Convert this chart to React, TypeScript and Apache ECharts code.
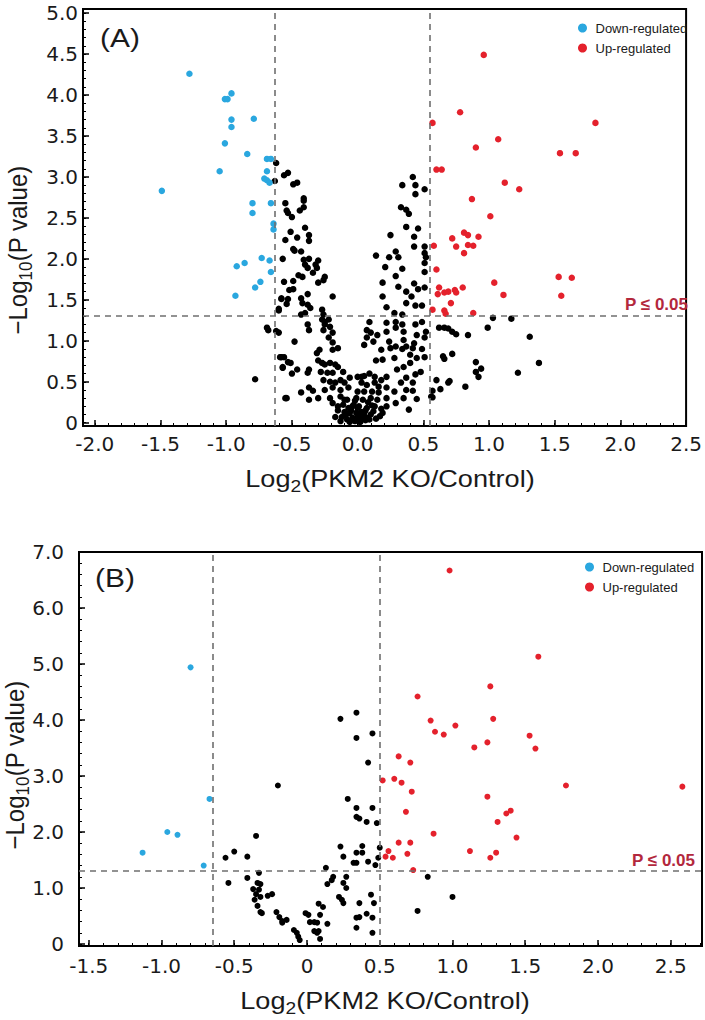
import React, { useEffect, useRef } from "react";
import * as echarts from "echarts";

// ---------- Panel A data: [log2 fold change, -log10 p] ----------
const aDown: [number, number][] = [
  [-1.28, 4.26], [-1.49, 2.83], [-1.01, 3.95], [-0.99, 3.95], [-0.96, 4.02], [-0.96, 3.7],
  [-0.96, 3.61], [-1.01, 3.41], [-0.79, 3.71], [-0.84, 3.28], [-1.05, 3.07], [-0.69, 3.22],
  [-0.66, 3.22], [-0.69, 3.07], [-0.71, 2.98], [-0.69, 2.96], [-0.67, 2.93], [-0.8, 2.68],
  [-0.8, 2.56], [-0.66, 2.68], [-0.64, 2.43], [-0.64, 2.36], [-0.92, 1.91], [-0.86, 1.95],
  [-0.73, 2.01], [-0.67, 1.98], [-0.66, 1.84], [-0.74, 1.72], [-0.78, 1.65], [-0.93, 1.55],
];

const aUp: [number, number][] = [
  [0.96, 4.49], [0.78, 3.79], [0.57, 3.66], [1.81, 3.66], [1.07, 3.46], [0.9, 3.36],
  [1.54, 3.29], [1.66, 3.29], [0.6, 3.09], [0.64, 3.09], [1.12, 2.93], [1.23, 2.85],
  [0.87, 2.73], [1.01, 2.52], [0.81, 2.32], [0.84, 2.29], [0.92, 2.27], [0.72, 2.25],
  [0.58, 2.16], [0.75, 2.15], [0.81, 2.07], [0.84, 2.17], [0.88, 2.16], [0.6, 1.87],
  [1.04, 1.71], [1.53, 1.78], [1.63, 1.77], [1.55, 1.55], [1.11, 1.56], [0.62, 1.65],
  [0.61, 1.57], [0.66, 1.59], [0.69, 1.6], [0.74, 1.62], [0.75, 1.59], [0.8, 1.65],
  [0.71, 1.46], [0.57, 1.38], [0.66, 1.37], [0.67, 1.33], [0.88, 1.34],
];

const aNS: [number, number][] = [
  // right of threshold, not significant
  [1.03, 1.28], [1.17, 1.27], [0.99, 1.16], [1.31, 1.05], [0.62, 1.16], [0.66, 1.16],
  [0.69, 1.15], [0.72, 1.11], [0.75, 1.08], [0.84, 1.07], [1.38, 0.73], [1.22, 0.61],
  [0.72, 0.84], [0.65, 0.81], [0.66, 0.78], [0.9, 0.74], [0.94, 0.66], [0.9, 0.62],
  [0.92, 0.56], [0.7, 0.51], [0.69, 0.49], [0.6, 0.52], [0.63, 0.41], [0.82, 0.44],
  [0.57, 0.39], [0.57, 0.31],
  // centre-right, above 1.3
  [0.42, 3.0], [0.34, 2.9], [0.44, 2.9], [0.44, 2.79], [0.51, 2.85], [0.33, 2.63],
  [0.37, 2.6], [0.39, 2.55], [0.37, 2.39], [0.46, 2.37], [0.25, 2.29], [0.43, 2.27],
  [0.43, 2.15], [0.51, 2.15], [0.14, 2.04], [0.24, 2.02], [0.29, 2.09], [0.31, 2.02],
  [0.21, 1.9], [0.51, 2.07], [0.52, 2.02], [0.51, 1.95], [0.34, 1.88], [0.51, 1.84],
  [0.29, 1.79], [0.19, 1.71], [0.31, 1.66], [0.37, 1.6], [0.43, 1.7], [0.46, 1.63],
  [0.51, 1.65], [0.19, 1.54], [0.22, 1.41], [0.37, 1.46], [0.41, 1.54], [0.44, 1.43],
  [0.28, 1.34], [0.34, 1.32], [0.49, 1.43],
  // centre-right, below 1.3
  [0.09, 1.23], [0.07, 1.13], [0.1, 1.1], [0.15, 1.07], [0.07, 1.04], [0.12, 0.99],
  [0.05, 0.95], [0.22, 1.22], [0.22, 1.11], [0.29, 1.23], [0.29, 1.16], [0.35, 1.11],
  [0.34, 1.2], [0.44, 1.2], [0.49, 1.23], [0.52, 1.11], [0.45, 1.07], [0.35, 1.01],
  [0.24, 0.99], [0.43, 0.97], [0.51, 1.04], [0.18, 0.89], [0.25, 0.91], [0.29, 0.93],
  [0.34, 0.9], [0.37, 0.93], [0.42, 0.91], [0.49, 0.9], [0.14, 0.76], [0.19, 0.77],
  [0.28, 0.79], [0.4, 0.83], [0.45, 0.79], [0.4, 0.73], [0.51, 0.8], [0.35, 0.68],
  [0.3, 0.65], [0.48, 0.62], [0.0, 0.56], [0.05, 0.57], [0.09, 0.6], [0.13, 0.56],
  [0.18, 0.52], [0.22, 0.56], [0.37, 0.55], [0.44, 0.59], [0.03, 0.49], [0.07, 0.46],
  [0.13, 0.49], [0.16, 0.44], [0.33, 0.49], [0.42, 0.49], [0.0, 0.38], [0.05, 0.38],
  [0.11, 0.38], [0.16, 0.37], [0.22, 0.43], [0.28, 0.38], [0.37, 0.4], [0.42, 0.39],
  [-0.01, 0.3], [0.04, 0.28], [0.1, 0.3], [0.15, 0.28], [0.22, 0.3], [0.35, 0.3],
  [0.45, 0.29], [0.56, 0.32], [0.01, 0.2], [0.07, 0.18], [0.13, 0.2], [0.22, 0.2],
  [0.29, 0.24], [0.0, 0.1], [0.05, 0.12], [0.1, 0.1], [0.19, 0.12], [0.39, 0.16],
  [0.03, 0.06], [0.07, 0.06], [0.14, 0.05],
  // left side, above 1.3
  [-0.62, 3.17], [-0.63, 2.95], [-0.56, 3.02], [-0.53, 3.05], [-0.49, 2.91], [-0.46, 2.93],
  [-0.41, 2.74], [-0.41, 2.71], [-0.55, 2.68], [-0.54, 2.59], [-0.53, 2.56], [-0.5, 2.51],
  [-0.44, 2.59], [-0.41, 2.63], [-0.4, 2.38], [-0.51, 2.33], [-0.46, 2.26], [-0.55, 2.23],
  [-0.37, 2.29], [-0.37, 2.22], [-0.49, 2.12], [-0.48, 2.1], [-0.43, 2.09], [-0.57, 2.0],
  [-0.41, 1.99], [-0.37, 2.0], [-0.3, 1.98], [-0.4, 1.93], [-0.38, 1.89], [-0.32, 1.93],
  [-0.31, 1.89], [-0.45, 1.8], [-0.42, 1.78], [-0.34, 1.83], [-0.25, 1.78], [-0.26, 1.74],
  [-0.56, 1.72], [-0.49, 1.73], [-0.3, 1.71], [-0.52, 1.62], [-0.49, 1.63], [-0.38, 1.57],
  [-0.58, 1.52], [-0.53, 1.51], [-0.43, 1.52], [-0.19, 1.54], [-0.54, 1.45], [-0.42, 1.46],
  [-0.38, 1.44], [-0.36, 1.4], [-0.6, 1.37], [-0.43, 1.32], [-0.4, 1.34], [-0.27, 1.38],
  [-0.26, 1.32], [-0.6, 1.39],
  // left side, below 1.3
  [-0.27, 1.26], [-0.25, 1.23], [-0.22, 1.26], [-0.25, 1.2], [-0.38, 1.2], [-0.37, 1.13],
  [-0.26, 1.13], [-0.21, 1.17], [-0.19, 1.1], [-0.22, 1.04], [-0.6, 1.1], [-0.68, 1.13],
  [-0.69, 1.16], [-0.48, 0.99], [-0.19, 0.98], [-0.19, 0.89], [-0.15, 0.91], [-0.29, 0.89],
  [-0.31, 0.85], [-0.58, 0.8], [-0.56, 0.8], [-0.53, 0.74], [-0.51, 0.73], [-0.57, 0.67],
  [-0.5, 0.6], [-0.46, 0.65], [-0.3, 0.76], [-0.27, 0.73], [-0.25, 0.71], [-0.21, 0.73],
  [-0.17, 0.71], [-0.37, 0.65], [-0.28, 0.62], [-0.23, 0.61], [-0.19, 0.61], [-0.15, 0.68],
  [-0.11, 0.62], [-0.38, 0.61], [-0.26, 0.52], [-0.21, 0.5], [-0.17, 0.49], [-0.13, 0.52],
  [-0.1, 0.49], [-0.06, 0.55], [0.03, 0.56], [-0.37, 0.43], [-0.34, 0.39], [-0.25, 0.4],
  [-0.19, 0.43], [-0.13, 0.4], [-0.07, 0.43], [-0.43, 0.37], [-0.37, 0.28], [-0.3, 0.3],
  [-0.21, 0.3], [-0.13, 0.32], [-0.1, 0.28], [-0.54, 0.3], [-0.19, 0.24], [-0.15, 0.2],
  [-0.11, 0.22], [-0.07, 0.18], [-0.04, 0.2], [0.0, 0.18], [-0.1, 0.13], [-0.06, 0.12],
  [-0.01, 0.12], [0.03, 0.13], [-0.17, 0.07], [-0.12, 0.07], [-0.04, 0.06], [0.0, 0.06],
  [0.04, 0.07], [-0.08, 0.04], [-0.02, 0.02], [-0.78, 0.53], [-0.62, 1.12], [-0.59, 0.8],
  [-0.57, 0.68], [-0.55, 0.3], [-0.58, 1.51],
  // dense blob near the origin
  [-0.15, 0.15], [-0.09, 0.09], [-0.05, 0.15], [0.02, 0.09], [0.06, 0.15], [0.09, 0.04],
  [0.12, 0.14], [0.17, 0.08], [-0.13, 0.02], [-0.03, 0.22], [0.08, 0.25], [0.11, 0.21],
  [-0.02, 0.27], [-0.08, 0.28], [0.18, 0.17], [0.02, 0.01], [0.06, 0.03], [-0.06, 0.01],
];

// ---------- Panel B data ----------
const bDown: [number, number][] = [
  [-0.8, 4.94], [-0.67, 2.59], [-0.96, 2.0], [-0.89, 1.95], [-1.13, 1.63], [-0.71, 1.4],
];

const bUp: [number, number][] = [
  [0.98, 6.67], [1.59, 5.13], [1.26, 4.6], [0.76, 4.42], [0.85, 3.99], [1.28, 4.02],
  [1.02, 3.9], [0.88, 3.79], [0.94, 3.74], [1.53, 3.72], [1.57, 3.49], [1.15, 3.51],
  [1.24, 3.6], [0.63, 3.35], [0.71, 3.24], [0.52, 2.92], [0.6, 2.95], [0.65, 2.88],
  [0.72, 2.72], [1.78, 2.83], [2.58, 2.81], [1.24, 2.63], [0.68, 2.36], [1.37, 2.33],
  [1.4, 2.38], [1.31, 2.18], [0.87, 1.97], [1.44, 1.9], [0.63, 1.81], [0.71, 1.81],
  [0.56, 1.66], [0.69, 1.61], [1.12, 1.66], [1.3, 1.63], [1.26, 1.54], [0.54, 1.56],
  [0.59, 1.54], [0.73, 1.32],
];

const bNS: [number, number][] = [
  [-0.2, 2.83], [-0.35, 1.93], [-0.56, 1.54], [-0.5, 1.65], [-0.41, 1.56], [-0.54, 1.09],
  [-0.41, 1.18], [-0.33, 1.27], [-0.34, 1.09], [-0.32, 1.07], [-0.37, 0.98], [-0.33, 0.97],
  [-0.35, 0.89], [-0.32, 0.84], [-0.27, 0.86], [-0.24, 0.89], [-0.36, 0.79], [-0.34, 0.68],
  [-0.32, 0.57], [-0.31, 0.55], [-0.21, 0.57], [-0.19, 0.48], [-0.17, 0.41], [-0.14, 0.43],
  [-0.17, 0.38], [-0.09, 0.25], [-0.07, 0.2], [-0.06, 0.13], [-0.05, 0.07], [-0.01, 0.55],
  [0.01, 0.52], [0.02, 0.39], [0.05, 0.39], [0.07, 0.38], [0.08, 0.72], [0.11, 0.66],
  [0.09, 0.52], [0.05, 0.23], [0.08, 0.23], [0.07, 0.2], [0.09, 0.09], [0.14, 0.36],
  [0.13, 1.36], [0.14, 1.07], [0.17, 1.14], [0.18, 1.2], [0.22, 0.84], [0.24, 0.79],
  [0.25, 0.73], [0.23, 1.74], [0.25, 1.56], [0.27, 1.2], [0.25, 1.09], [0.27, 1.0],
  [0.28, 2.59], [0.34, 2.43], [0.45, 2.43], [0.34, 2.27], [0.36, 2.24], [0.41, 2.18],
  [0.48, 2.16], [0.32, 1.45], [0.34, 1.63], [0.34, 1.45], [0.38, 1.75], [0.38, 1.63],
  [0.42, 1.47], [0.47, 1.41], [0.5, 1.72], [0.49, 1.54], [0.36, 0.73], [0.34, 0.47],
  [0.36, 0.48], [0.41, 0.54], [0.45, 0.47], [0.44, 0.88], [0.46, 0.73], [0.34, 0.29],
  [0.45, 0.2], [0.42, 3.24], [0.34, 3.68], [0.23, 4.02], [0.34, 4.13], [0.45, 3.76],
  [0.83, 1.2], [1.0, 0.84], [0.76, 0.59],
];

// ---------- Axis ticks and thresholds ----------
const aXTicks = [-2.0, -1.5, -1.0, -0.5, 0.0, 0.5, 1.0, 1.5, 2.0, 2.5];
const aYTicks = [0, 0.5, 1.0, 1.5, 2.0, 2.5, 3.0, 3.5, 4.0, 4.5, 5.0];
const bXTicks = [-1.5, -1.0, -0.5, 0, 0.5, 1.0, 1.5, 2.0, 2.5];
const bYTicks = [0, 1.0, 2.0, 3.0, 4.0, 5.0, 6.0, 7.0];
const aFoldCut = [-0.63, 0.55];
const bFoldCut = [-0.65, 0.5];
const pCut = 1.3;
const legendNames = ["Down-regulated", "Up-regulated"];

const BLUE = "#2aa7df";
const RED = "#e4212c";
const PCOL = "#b3283d";
const FONT = "'Liberation Sans', Arial, Helvetica, sans-serif";
const TICK_FONT = "'DejaVu Sans', 'Liberation Sans', sans-serif";

function steps(min: number, max: number, step: number): number[] {
  const out: number[] = [];
  const start = Math.ceil(min / step - 1e-9);
  for (let i = start; i * step <= max + 1e-9; i++) out.push(Math.round(i * step * 1000) / 1000);
  return out;
}

const fmtDec = (v: number) => (Math.abs(v) < 1e-9 ? "0.0" : v.toFixed(1));
const fmtZero = (v: number) => (Math.abs(v) < 1e-9 ? "0" : v.toFixed(1));

function axisPair(
  dim: "x" | "y",
  gridIndex: number,
  min: number,
  max: number,
  majors: number[],
  minorStep: number,
  fmt: (v: number) => string,
  margin: number
) {
  const position = dim === "x" ? "bottom" : "left";
  const main = {
    type: "value",
    gridIndex,
    position,
    min,
    max,
    axisLine: { show: true, onZero: false, lineStyle: { color: "#000", width: 2 } },
    axisTick: { show: true, inside: true, length: 6, customValues: majors, lineStyle: { color: "#000", width: 1.5 } },
    axisLabel: {
      show: true,
      customValues: majors,
      formatter: fmt,
      fontSize: 20,
      fontFamily: TICK_FONT,
      color: "#1a1a1a",
      margin,
    },
    splitLine: { show: false },
  };
  const minor = {
    type: "value",
    gridIndex,
    position,
    min,
    max,
    axisLine: { show: false, onZero: false },
    axisTick: {
      show: true,
      inside: true,
      length: 3,
      customValues: steps(min, max, minorStep),
      lineStyle: { color: "#000", width: 1 },
    },
    axisLabel: { show: false },
    splitLine: { show: false },
  };
  return [main, minor];
}

function cutLines(xs: number[], y: number) {
  return {
    silent: true,
    symbol: ["none", "none"],
    animation: false,
    label: { show: false },
    emphasis: { disabled: true },
    lineStyle: { type: [6, 5], color: "#6f6f6f", width: 1.6 },
    data: [...xs.map((v) => ({ xAxis: v })), { yAxis: y }],
  };
}

const richTitle = {
  m: { fontSize: 24, fontFamily: FONT, fill: "#1a1a1a", lineHeight: 28, verticalAlign: "top" },
  s: { fontSize: 17, fontFamily: FONT, fill: "#1a1a1a", lineHeight: 20, padding: [14, 0, 0, 0], verticalAlign: "bottom" },
};

function xTitle(x: number, y: number) {
  return {
    type: "text",
    x,
    y,
    scaleX: 1.13,
    style: {
      text: "{m|Log}{s|2}{m|(PKM2 KO/Control)}",
      align: "center",
      verticalAlign: "top",
      rich: richTitle,
    },
  };
}

function yTitle(x: number, y: number) {
  return {
    type: "text",
    x,
    y,
    rotation: Math.PI / 2,
    scaleY: 1.1,
    style: {
      text: "{m|\u2212Log}{s|10}{m|(P value)}",
      align: "center",
      verticalAlign: "middle",
      rich: richTitle,
    },
  };
}

function legendAt(left: number, top: number) {
  return {
    data: legendNames,
    orient: "vertical",
    left,
    top,
    icon: "circle",
    itemWidth: 16,
    itemHeight: 9,
    itemGap: 6,
    selectedMode: false,
    textStyle: { fontSize: 13, fontFamily: FONT, color: "#1a1a1a", lineHeight: 14 },
  };
}

function dots(name: string, idx: number, data: [number, number][], color: string, size: number, extra: any = {}) {
  return {
    type: "scatter",
    name,
    xAxisIndex: idx,
    yAxisIndex: idx,
    data,
    symbolSize: size,
    itemStyle: { color, opacity: 1 },
    emphasis: { disabled: true },
    ...extra,
  };
}

export default function App() {
  const ref = useRef<HTMLDivElement>(null);

  useEffect(() => {
    if (!ref.current) return;
    const chart = echarts.init(ref.current, undefined, { renderer: "svg" });

    const [axA, axAm] = axisPair("x", 0, -2.09, 2.5, aXTicks, 0.1, fmtDec, 8);
    const [ayA, ayAm] = axisPair("y", 0, -0.04, 5.05, aYTicks, 0.1, fmtZero, 5);
    const [axB, axBm] = axisPair("x", 1, -1.567, 2.715, bXTicks, 0.1, fmtZero, 10);
    const [ayB, ayBm] = axisPair("y", 1, -0.036, 7.0, bYTicks, 0.2, fmtZero, 15);

    const option: any = {
      animation: false,
      grid: [
        { left: 83, top: 9, width: 615, height: 417, show: true, borderColor: "#000", borderWidth: 2, backgroundColor: "transparent" },
        { left: 79, top: 552, width: 623, height: 394, show: true, borderColor: "#000", borderWidth: 2, backgroundColor: "transparent" },
      ],
      xAxis: [axA, axAm, axB, axBm],
      yAxis: [ayA, ayAm, ayB, ayBm],
      legend: [legendAt(573, 16), legendAt(580, 555)],
      series: [
        dots("Not significant A", 0, aNS, "#000", 6.5, { markLine: cutLines(aFoldCut, pCut) }),
        dots("Down-regulated", 0, aDown, BLUE, 6.5),
        dots("Up-regulated", 0, aUp, RED, 6.5),
        dots("Not significant B", 2, bNS, "#000", 6, { markLine: cutLines(bFoldCut, pCut) }),
        dots("Down-regulated", 2, bDown, BLUE, 6),
        dots("Up-regulated", 2, bUp, RED, 6),
      ],
      graphic: [
        { type: "text", x: 120, y: 38, scaleX: 1.15, style: { text: "(A)", fontSize: 26, fontFamily: FONT, fill: "#1a1a1a", align: "center", verticalAlign: "middle" } },
        { type: "text", x: 115, y: 578, scaleX: 1.15, style: { text: "(B)", fontSize: 26, fontFamily: FONT, fill: "#1a1a1a", align: "center", verticalAlign: "middle" } },
        { type: "text", x: 688, y: 304, style: { text: "P \u2264 0.05", fontSize: 17, fontWeight: "bold", fontFamily: FONT, fill: PCOL, align: "right", verticalAlign: "middle" } },
        { type: "text", x: 695, y: 860, style: { text: "P \u2264 0.05", fontSize: 17, fontWeight: "bold", fontFamily: FONT, fill: PCOL, align: "right", verticalAlign: "middle" } },
        xTitle(390, 467),
        xTitle(385, 989),
        yTitle(20, 250),
        yTitle(17, 765),
      ],
    };

    chart.setOption(option);
    return () => chart.dispose();
  }, []);

  return (
    <div
      ref={ref}
      style={{ position: "absolute", left: 0, top: 0, width: 705, height: 1020, background: "#fff" }}
    />
  );
}
